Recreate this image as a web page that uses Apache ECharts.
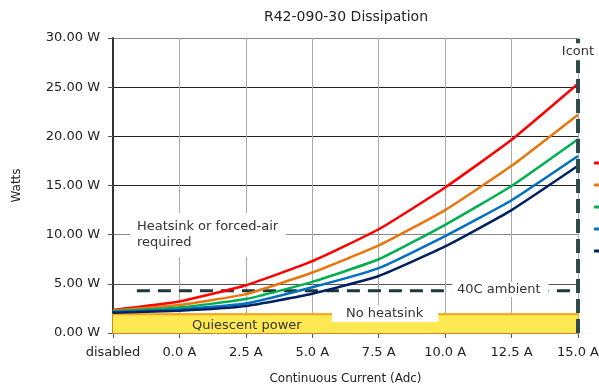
<!DOCTYPE html>
<html>
<head>
<meta charset="utf-8">
<script src="https://cdn.jsdelivr.net/npm/echarts@6/dist/echarts.min.js"></script>
<style>
  html, body { margin: 0; padding: 0; background: #fff; }
  #chart { width: 599px; height: 387px; }
</style>
</head>
<body>
<div id="chart"></div>
<script>
// Drive dissipation vs. continuous output current
const categories = ['disabled', '0.0 A', '2.5 A', '5.0 A', '7.5 A', '10.0 A', '12.5 A', '15.0 A'];
const seriesNames = ['90 VDC', '75 VDC', '60 VDC', '48 VDC', '24 VDC'];
const seriesColors = ['#ff0000', '#e8760c', '#00b050', '#0070c0', '#002060'];
const watts90 = [2.35, 3.2, 4.85, 7.3, 10.55, 14.8, 19.65, 25.35];
const watts75 = [2.3, 2.85, 3.95, 6.15, 8.9, 12.5, 17.0, 22.2];
const watts60 = [2.22, 2.6, 3.45, 5.2, 7.5, 11.0, 14.95, 19.7];
const watts48 = [2.14, 2.4, 3.0, 4.65, 6.6, 9.85, 13.5, 18.0];
const watts24 = [2.07, 2.27, 2.75, 4.0, 5.8, 8.8, 12.5, 17.0];
const seriesValues = [watts90, watts75, watts60, watts48, watts24];
const yTicks = [0, 5, 10, 15, 20, 25, 30];

const quiescentWatts = 1.9;      // standby dissipation band
const ambientLimitWatts = 4.3;   // max without heatsink at 40C ambient
const ambientLineStart = 0.36;   // in category-index units
const icontCategory = '15.0 A';

const chart = echarts.init(document.getElementById('chart'));
const font = 'DejaVu Sans, Verdana, sans-serif';

const lineSeries = seriesNames.map((name, i) => ({
  name: name,
  type: 'line',
  data: seriesValues[i],
  symbol: 'none',
  smooth: 0.15,
  z: 5,
  lineStyle: { color: seriesColors[i], width: 2.5 },
  itemStyle: { color: seriesColors[i] }
}));

const option = {
  animation: false,
  title: {
    text: 'R42-090-30 Dissipation',
    left: 341, top: 5, textAlign: 'center',
    textStyle: { fontFamily: font, fontSize: 14, fontWeight: 'normal', color: '#222' }
  },
  legend: {
    data: seriesNames,
    orient: 'vertical',
    left: 594, top: 157, padding: 0,
    itemWidth: 14, itemHeight: 3, itemGap: 10,
    icon: 'roundRect',
    textStyle: { fontFamily: font, fontSize: 12, color: '#222' }
  },
  grid: { left: 113, right: 21, top: 38, bottom: 54, outerBoundsMode: 'none', containLabel: false },
  xAxis: [{
    type: 'category',
    data: categories,
    boundaryGap: false,
    name: 'Continuous Current (Adc)',
    nameLocation: 'middle', nameGap: 40,
    nameTextStyle: { fontFamily: font, fontSize: 12, color: '#222' },
    axisLine: { lineStyle: { color: '#333', width: 2 } },
    axisTick: { show: true, length: 5, interval: 0, lineStyle: { color: '#555' } },
    axisLabel: { fontFamily: font, fontSize: 13, color: '#222', margin: 13, interval: 0, hideOverlap: false },
    splitLine: { show: true, interval: 0, lineStyle: { color: '#aaa', width: 1 } }
  }, {
    type: 'value', min: 0, max: categories.length - 1, show: false
  }],
  yAxis: {
    type: 'value', min: yTicks[0], max: yTicks[yTicks.length - 1], interval: 5,
    name: 'Watts', nameLocation: 'middle', nameGap: 90,
    nameTextStyle: { fontFamily: font, fontSize: 12, color: '#222' },
    axisLine: { show: true, lineStyle: { color: '#333', width: 2 } },
    axisTick: { show: true, length: 5, lineStyle: { color: '#555' } },
    axisLabel: {
      fontFamily: font, fontSize: 13, color: '#222', margin: 13,
      formatter: v => v.toFixed(2) + ' W'
    },
    splitLine: { show: true, lineStyle: { color: ['#333', '#555', '#888', '#222', '#222', '#222', '#888'], width: 1 } }
  },
  series: [{
    name: 'Quiescent',
    type: 'line',
    data: categories.map(() => quiescentWatts),
    symbol: 'none',
    z: 2,
    lineStyle: { color: '#f7a51a', width: 2 },
    areaStyle: { color: '#ffe952', opacity: 1 },
    markArea: {
      silent: true,
      itemStyle: { color: 'rgba(0,0,0,0)', borderColor: '#f7a51a', borderWidth: 1.5 },
      data: [[{ xAxis: categories[0], yAxis: 0 }, { xAxis: icontCategory, yAxis: quiescentWatts }]]
    }
  }, {
    name: 'Ambient',
    type: 'line',
    xAxisIndex: 1,
    data: [[ambientLineStart, ambientLimitWatts], [categories.length - 1, ambientLimitWatts]],
    symbol: 'none',
    z: 3,
    lineStyle: { color: '#1d3838', width: 3, type: [13, 8] }
  }, ...lineSeries, {
    name: 'Icont',
    type: 'line',
    data: [],
    markLine: {
      silent: true,
      symbol: 'none',
      z: 10,
      lineStyle: { color: '#2f4a4a', width: 4, type: [14, 6] },
      label: { show: false },
      data: [[{ xAxis: icontCategory, yAxis: 0 }, { xAxis: icontCategory, yAxis: yTicks[yTicks.length - 1] }]]
    },
    markPoint: {
      silent: true,
      symbolSize: 0,
      z: 12,
      label: {
        show: true, formatter: 'Icont',
        fontFamily: font, fontSize: 13, color: '#333',
        backgroundColor: '#fff', padding: [2, 1]
      },
      data: [{ coord: [icontCategory, 28.6] }]
    }
  }],
  graphic: [{
    type: 'text', left: 130, top: 213, z: 20,
    style: {
      text: 'Heatsink or forced-air\nrequired',
      font: '13px ' + font, fill: '#333', lineHeight: 16,
      backgroundColor: '#fff', padding: [6, 8, 6, 7]
    }
  }, {
    type: 'text', left: 332, top: 305, z: 20,
    style: {
      text: 'No heatsink',
      font: '13px ' + font, fill: '#333',
      backgroundColor: '#fff', padding: [2, 15, 2, 14]
    }
  }, {
    type: 'text', left: 452, top: 282, z: 20,
    style: {
      text: '40C ambient',
      font: '13px ' + font, fill: '#333',
      backgroundColor: '#fff', padding: [1, 8, 1, 5]
    }
  }, {
    type: 'text', left: 192, top: 319, z: 20,
    style: { text: 'Quiescent power', font: '13px ' + font, fill: '#333' }
  }]
};

chart.setOption(option);
</script>
</body>
</html>
